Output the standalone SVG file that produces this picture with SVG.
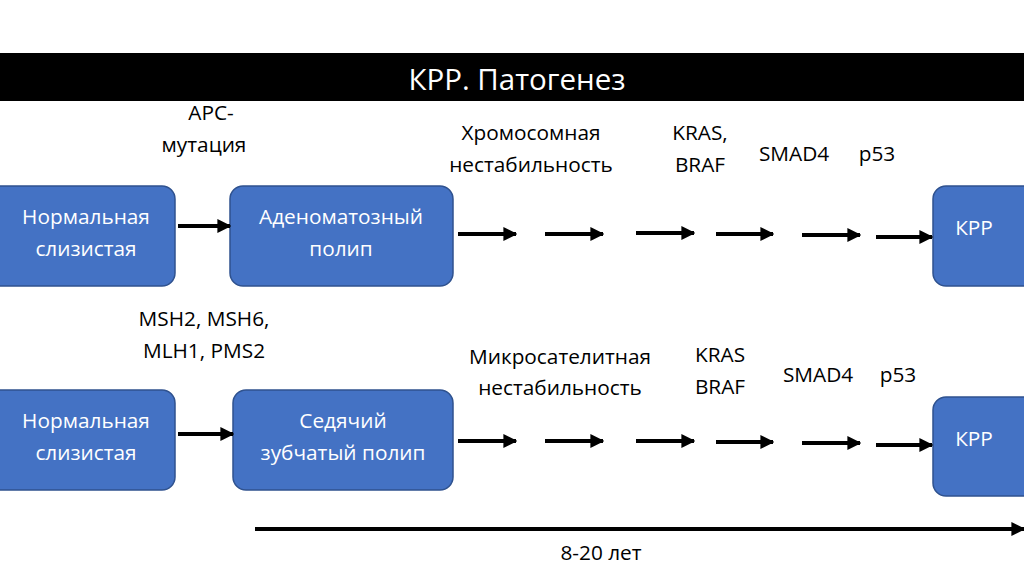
<svg xmlns="http://www.w3.org/2000/svg" width="1024" height="574" viewBox="0 0 1024 574">
<defs>
<style>
.box{fill:#4472C4;stroke:#2F528F;stroke-width:1.5}
.bt{font-family:"Open Sans","DejaVu Sans",sans-serif;font-size:20.8px;fill:#fff;text-anchor:middle}
.lb{font-family:"Open Sans","DejaVu Sans",sans-serif;font-size:20.8px;fill:#000;text-anchor:middle}
.ar{stroke:#000;stroke-width:4;fill:none;marker-end:url(#ah)}
</style>
<marker id="ah" viewBox="0 0 10 10" refX="9" refY="5" markerWidth="3.5" markerHeight="3.5" orient="auto" markerUnits="strokeWidth">
<path d="M0,0 L10,5 L0,10 Z" fill="#000"/>
</marker>
</defs>
<rect width="1024" height="574" fill="#fff"/>
<g id="title">
<rect x="0" y="53" width="1024" height="48" fill="#000"/>
<text x="517" y="90" font-family="'Open Sans','DejaVu Sans',sans-serif" font-size="29.5" fill="#fff" text-anchor="middle">КРР. Патогенез</text>
</g>
<g id="n1"><rect class="box" x="-12" y="186" width="187" height="100" rx="13"/><text class="bt" x="86" y="224">Нормальная</text><text class="bt" x="86" y="256">слизистая</text></g>
<g id="n2"><rect class="box" x="230" y="186" width="223" height="100" rx="13"/><text class="bt" x="341" y="224">Аденоматозный</text><text class="bt" x="341" y="256">полип</text></g>
<g id="n3"><rect class="box" x="933" y="186" width="103" height="100" rx="13"/><text class="bt" x="974" y="235">КРР</text></g>
<g id="n4"><rect class="box" x="-12" y="390" width="187" height="100" rx="13"/><text class="bt" x="86" y="428">Нормальная</text><text class="bt" x="86" y="460">слизистая</text></g>
<g id="n5"><rect class="box" x="233" y="390" width="220" height="100" rx="13"/><text class="bt" x="343" y="428">Седячий</text><text class="bt" x="343" y="460">зубчатый полип</text></g>
<g id="n6"><rect class="box" x="933" y="397" width="103" height="99" rx="13"/><text class="bt" x="974" y="446">КРР</text></g>
<g id="labels">
<text class="lb" x="211" y="120">APC-</text>
<text class="lb" x="204" y="152">мутация</text>
<text class="lb" x="531" y="140">Хромосомная</text>
<text class="lb" x="531" y="172">нестабильность</text>
<text class="lb" x="700" y="140">KRAS,</text>
<text class="lb" x="700" y="172">BRAF</text>
<text class="lb" x="794" y="161">SMAD4</text>
<text class="lb" x="877" y="161">p53</text>
<text class="lb" x="204" y="326">MSH2, MSH6,</text>
<text class="lb" x="204" y="358">MLH1, PMS2</text>
<text class="lb" x="560" y="364">Микросателитная</text>
<text class="lb" x="560" y="395">нестабильность</text>
<text class="lb" x="720" y="362">KRAS</text>
<text class="lb" x="720" y="394">BRAF</text>
<text class="lb" x="818" y="382">SMAD4</text>
<text class="lb" x="898" y="382">p53</text>
<text class="lb" x="601" y="560">8-20 лет</text>
</g>
<g id="connectors">
<line class="ar" x1="178" y1="226" x2="230" y2="226"/>
<line class="ar" x1="458" y1="234" x2="516" y2="234"/>
<line class="ar" x1="545" y1="234" x2="603" y2="234"/>
<line class="ar" x1="636" y1="233" x2="694" y2="233"/>
<line class="ar" x1="716" y1="234" x2="773" y2="234"/>
<line class="ar" x1="802" y1="235" x2="860" y2="235"/>
<line class="ar" x1="876" y1="237" x2="932" y2="237"/>
<line class="ar" x1="178" y1="434" x2="233" y2="434"/>
<line class="ar" x1="458" y1="441" x2="516" y2="441"/>
<line class="ar" x1="545" y1="441" x2="603" y2="441"/>
<line class="ar" x1="636" y1="441" x2="694" y2="441"/>
<line class="ar" x1="716" y1="442" x2="773" y2="442"/>
<line class="ar" x1="802" y1="443" x2="860" y2="443"/>
<line class="ar" x1="876" y1="445" x2="932" y2="445"/>
<line class="ar" x1="255" y1="529" x2="1024" y2="529"/>
</g>
</svg>
